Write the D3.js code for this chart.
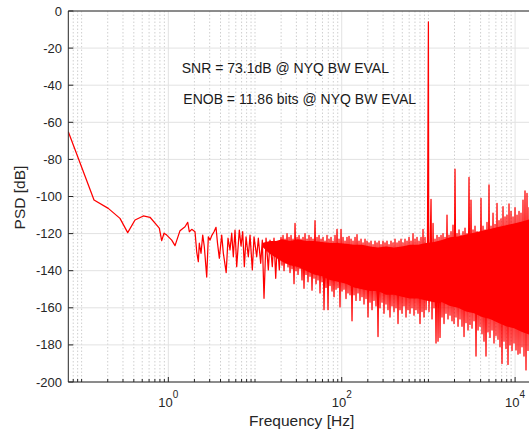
<!DOCTYPE html>
<html>

<head>
  <meta charset="utf-8">
  <title>PSD</title>
  <script src="https://d3js.org/d3.v7.min.js"></script>
  <style>
    body { margin: 0; background: #fff; }
    text { font-family: "Liberation Sans", Arial, sans-serif; fill: #262626; }
  </style>
</head>

<body>
  <svg id="psd_svg"></svg>
</body>

<script>

  // spectrum trace: [frequency Hz, PSD dB]
  var psdTrace = [
    [0.0702,-65.1],[0.139,-101.9],[0.203,-106.4],[0.277,-111.8],[0.340,-119.5],[0.413,-112.7],
    [0.515,-110.5],[0.615,-111.2],[0.735,-115.4],[0.787,-117.1],[0.839,-123.8],[0.892,-119.8],
    [0.958,-120.8],[1.094,-123.5],[1.195,-126.5],[1.364,-118.4],[1.558,-116.3],[1.674,-113.9],
    [1.747,-119.0],[1.862,-117.7],[2.032,-119.0],[2.126,-129.8],[2.218,-135.1],[2.278,-125.2],
    [2.383,-130.6],[2.494,-120.8],[2.602,-127.1],[2.773,-143.4],[2.893,-121.7],[3.027,-123.5],
    [3.192,-120.8],[3.366,-119.0],[3.549,-116.6],[3.694,-125.2],[3.875,-133.3],[4.130,-120.8],
    [4.310,-130.5],[4.65,-141.0],[4.882,-122.5],[5.148,-128.8],[5.387,-119.8],[5.62,-132.5],
    [5.88,-118.1],[6.15,-137.8],[6.59,-118.1],[6.90,-126.7],[7.21,-119.0],[7.53,-137.8],
    [7.88,-121.7],[8.37,-132.5],[8.76,-120.8],[9.31,-139.6],[9.74,-121.7],[10.46,-132.5],
    [10.92,-122.5],[11.63,-136.0],[12.14,-123.5],[12.70,-154.9],[13.40,-122.5],[14.24,-139.6],
    [14.89,-123.5],[15.83,-137.8],[16.56,-122.5],[17.33,-144.1],[18.08,-124.4],[19.07,-139.6],
    [19.95,-122],[20.49,-137],[21.04,-121],[21.61,-140],[22.19,-123],[22.79,-136],[23.40,-120],
    [24.03,-138],[24.68,-122],[25.34,-141],[26.02,-121],[26.73,-139],[27.45,-123],[28.18,-147],
    [28.94,-114.5],[29.72,-140],[30.52,-122],[31.34,-142],[32.18,-121],[33.04,-139],[33.93,-123],
    [34.84,-145],[35.78,-122],[36.74,-149.5],[37.73,-120],[38.75,-142],[39.79,-123],[40.86,-146],
    [41.96,-121],[43.09,-143],[44.25,-122],[45.45,-150.5],[46.67,-123],[47.93,-144],[49.22,-113],
    [50.54,-147],[51.90,-122],[53.30,-145],[54.73,-121],[56.20,-152],[57.71,-123],[59.27,-146],
    [60.86,-122],[62.50,-161],[64.18,-124],[65.91,-149],[67.68,-121],[69.51,-161],[71.38,-123],
    [73.30,-148],[75.27,-122],[77.30,-151],[79.38,-124],[81.52,-154],[83.71,-121],[85.97,-150],
    [88.28,-117.7],[90.66,-149],[93.10,-123],[95.59,-159.5],[98.16,-117.7],[100.8,-151],
    [103.5,-122],[106.3,-150],[109.2,-124],[112.1,-155],[115.1,-122],[118.2,-152],[121.4,-121.5],
    [124.7,-153],[128.1,-123],[131.5,-167],[135.0,-124],[138.7,-153],[142.4,-122],[146.2,-156],
    [150.1,-120.5],[154.2,-152],[158.3,-124],[162.6,-156],[167.0,-123],[171.5,-154],[176.1,-125],
    [180.8,-158],[185.7,-123],[190.7,-155],[195.8,-124],[201.1,-165],[206.5,-125],[212.1,-157],
    [217.8,-124],[223.7,-161],[229.7,-126],[235.9,-156],[242.2,-124],[248.7,-159],[255.4,-125],
    [262.3,-175.5],[269.4,-124],[276.5,-160],[283.9,-126],[291.6,-157],[299.4,-124],[307.5,-163],
    [315.8,-125],[324.3,-158],[333.0,-124],[342.0,-161],[351.2,-126],[360.6,-165],[370.3,-124],
    [380.3,-159],[390.5,-125],[401.1,-162],[411.9,-123],[423.0,-160],[434.4,-125],[446.1,-168.5],
    [458.1,-124],[470.4,-161],[483.1,-123],[496.1,-163],[509.4,-125],[523.1,-159],[537.2,-123],
    [551.7,-165],[566.6,-124],[581.8,-161],[597.5,-122],[613.5,-163],[630.0,-124],[647.0,-160],
    [664.4,-120],[682.3,-164],[700.7,-123],[719.6,-161],[739.0,-122],[758.8,-163],[779.2,-124],
    [800.2,-168.5],[821.7,-122],[843.9,-162],[866.6,-117.7],[889.9,-165],[913.8,-122],[938.5,-161],
    [975,-124],[1000,-5.8],[1008,-128],[1016,-162],[1072,-101.5],[1101,-166],[1131,-114.5],
    [1161,-160],[1192,-123],[1224,-179],[1257,-121],[1291,-178],[1326,-122],[1361,-176],
    [1398,-121],[1435,-165],[1474,-120],[1514,-168.5],[1555,-122],[1596,-163],[1639,-110],
    [1683,-166],[1728,-120.8],[1775,-164],[1823,-119],[1872,-167],[1922,-115.4],[1974,-168.5],
    [2027,-85.3],[2082,-165],[2138,-120],[2196,-170],[2255,-118],[2315,-166],[2377,-120.8],
    [2441,-170],[2507,-119],[2575,-175.5],[2644,-117],[2715,-168],[2788,-120],[2863,-172],
    [2940,-89.7],[3019,-169],[3100,-101.9],[3184,-171],[3270,-118],[3358,-167],[3448,-116],
    [3541,-186],[3636,-119],[3735,-172],[3835,-121.5],[3937,-170],[4043,-101],[4152,-174],
    [4264,-116],[4378,-178],[4496,-118],[4617,-186],[4741,-114],[4869,-173],[5000,-93.8],
    [5135,-176],[5273,-116],[5416,-172],[5562,-109],[5711,-179],[5865,-115],[6023,-175],
    [6185,-103.7],[6351,-177],[6522,-113],[6697,-181],[6877,-112],[7063,-190],[7253,-105.5],
    [7448,-178],[7649,-111],[7854,-182],[8065,-110],[8283,-190.5],[8506,-104],[8735,-180],
    [8970,-108],[9212,-183],[9460,-111],[9715,-179],[9977,-106],[10245,-182.7],[10521,-110],
    [10804,-185],[11095,-108],[11390,-184.5],[11696,-109],[12012,-181],[12335,-101.9],
    [12667,-186],[13008,-97],[13359,-193.5],[13718,-98.3],[14088,-183],[14467,-106],
    [14856,-180],[15256,-110],[15667,-178]
  ];

  // solid core of the noise floor, where the trace is too dense to see single lines
  var coreFreq = [12.04, 14.89, 17.47, 20.49, 25.34, 31.34, 38.75, 47.93, 59.27, 73.30, 90.66, 112.1,
    138.7, 171.5, 212.1, 262.3, 324.3, 401.1, 496.1, 613.5, 758.8, 938.5, 1161, 1435, 1775, 2196,
    2715, 3358, 4152, 5135, 6351, 7854, 9715, 12012, 15667];
  var coreTop = [-125, -124, -124, -123, -124, -123, -124, -124, -124.5, -125, -125, -125.5,
    -126, -126, -127, -127.5, -127, -127.5, -127, -126, -126, -125, -124.5, -123.5, -122, -121.5,
    -120.5, -119.5, -118.5, -117.5, -116.5, -115.5, -114.5, -113.5, -112];
  var coreBottom = [-127, -131, -133, -135, -137, -138, -140, -142, -143, -145, -146, -147,
    -149, -150, -151, -151, -153, -153, -154, -155, -155, -156, -157, -157, -159, -160,
    -162, -163, -165, -166, -168, -170, -171, -173, -175];

  var yTicks = [0, -20, -40, -60, -80, -100, -120, -140, -160, -180, -200];
  var xTickExp = [0, 2, 4];
  var notes = ["SNR = 73.1dB @ NYQ BW EVAL", "ENOB = 11.86 bits @ NYQ BW EVAL"];

  var width = 529;
  var height = 433;
  var plotLeft = 68.3, plotRight = 532.8, plotTop = 11, plotBottom = 382;

  var svg = d3.select("#psd_svg")
    .attr("width", width)
    .attr("height", height);

  var x = d3.scaleLog()
    .domain([0.0702, 16000])
    .range([plotLeft, plotRight]);

  var y = d3.scaleLinear()
    .domain([-200, 0])
    .range([plotBottom, plotTop]);

  svg.append("defs").append("clipPath").attr("id", "plotClip")
    .append("rect")
    .attr("x", plotLeft).attr("y", plotTop)
    .attr("width", plotRight - plotLeft).attr("height", plotBottom - plotTop);

  // minor x grid: every n*10^k that is not a labelled decade
  var minorX = [];
  for (var k = -2; k <= 4; k++) {
    for (var n = 1; n <= 9; n++) {
      var f = n * Math.pow(10, k);
      if (f < x.domain()[0] || f > x.domain()[1]) continue;
      if (n == 1 && xTickExp.indexOf(k) != -1) continue;
      minorX.push(f);
    }
  }

  var grid = svg.append("g");

  grid.selectAll(".minor")
    .data(minorX).enter()
    .append("line")
    .attr("x1", d => x(d)).attr("x2", d => x(d))
    .attr("y1", plotTop).attr("y2", plotBottom)
    .attr("stroke", "#cfcfcf")
    .attr("stroke-dasharray", "1.5,2");

  grid.selectAll(".ygrid")
    .data(yTicks).enter()
    .append("line")
    .attr("x1", plotLeft).attr("x2", plotRight)
    .attr("y1", d => y(d)).attr("y2", d => y(d))
    .attr("stroke", "#e2e2e2");

  grid.selectAll(".xgrid")
    .data(xTickExp).enter()
    .append("line")
    .attr("x1", d => x(Math.pow(10, d))).attr("x2", d => x(Math.pow(10, d)))
    .attr("y1", plotTop).attr("y2", plotBottom)
    .attr("stroke", "#e2e2e2");

  var plot = svg.append("g").attr("clip-path", "url(#plotClip)");

  var coreArea = d3.area()
    .x((d, i) => x(coreFreq[i]))
    .y0((d, i) => y(coreBottom[i]))
    .y1((d, i) => y(coreTop[i]));

  plot.append("path")
    .datum(coreFreq)
    .attr("fill", "#ff0000")
    .attr("d", coreArea);

  var line = d3.line()
    .x(d => x(d[0]))
    .y(d => y(d[1]));

  plot.append("path")
    .datum(psdTrace)
    .attr("fill", "none")
    .attr("stroke", "#ff0000")
    .attr("stroke-width", 1.25)
    .attr("stroke-linejoin", "round")
    .attr("d", line);

  // axes frame and inward ticks
  var axes = svg.append("g").attr("stroke", "#262626");

  axes.append("line").attr("x1", plotLeft).attr("x2", plotLeft).attr("y1", plotTop).attr("y2", plotBottom);
  axes.append("line").attr("x1", plotLeft).attr("x2", plotRight).attr("y1", plotBottom).attr("y2", plotBottom);
  axes.append("line").attr("x1", plotLeft).attr("x2", plotRight).attr("y1", plotTop).attr("y2", plotTop);

  axes.selectAll(".ytick")
    .data(yTicks).enter()
    .append("line")
    .attr("x1", plotLeft).attr("x2", plotLeft + 5)
    .attr("y1", d => y(d)).attr("y2", d => y(d));

  axes.selectAll(".xtick")
    .data(xTickExp).enter()
    .append("line")
    .attr("x1", d => x(Math.pow(10, d))).attr("x2", d => x(Math.pow(10, d)))
    .attr("y1", plotBottom).attr("y2", plotBottom - 5);

  axes.selectAll(".xminortick")
    .data(minorX).enter()
    .append("line")
    .attr("x1", d => x(d)).attr("x2", d => x(d))
    .attr("y1", plotBottom).attr("y2", plotBottom - 3);

  svg.selectAll(".ylabel")
    .data(yTicks).enter()
    .append("text")
    .attr("x", 62)
    .attr("y", d => y(d))
    .attr("dy", "0.35em")
    .attr("text-anchor", "end")
    .style("font-size", "13px")
    .text(d => d);

  var xLabels = svg.selectAll(".xlabel")
    .data(xTickExp).enter()
    .append("text")
    .attr("x", d => x(Math.pow(10, d)))
    .attr("y", 406.5)
    .attr("text-anchor", "middle")
    .style("font-size", "13px");

  xLabels.append("tspan").text("10");
  xLabels.append("tspan")
    .attr("dy", -8.5)
    .style("font-size", "10px")
    .text(d => d);

  svg.append("text")
    .attr("x", (plotLeft + 529) / 2 + 3)
    .attr("y", 425.5)
    .attr("text-anchor", "middle")
    .style("font-size", "15.5px")
    .text("Frequency [Hz]");

  svg.append("text")
    .attr("transform", "translate(25,197.5) rotate(-90)")
    .attr("text-anchor", "middle")
    .style("font-size", "15.5px")
    .text("PSD [dB]");

  svg.selectAll(".note")
    .data(notes).enter()
    .append("text")
    .attr("x", (d, i) => i == 0 ? 181.7 : 183.3)
    .attr("y", (d, i) => i == 0 ? 73.3 : 104.3)
    .style("font-size", "14px")
    .style("fill", "#1a1a1a")
    .text(d => d);

</script>

</html>
